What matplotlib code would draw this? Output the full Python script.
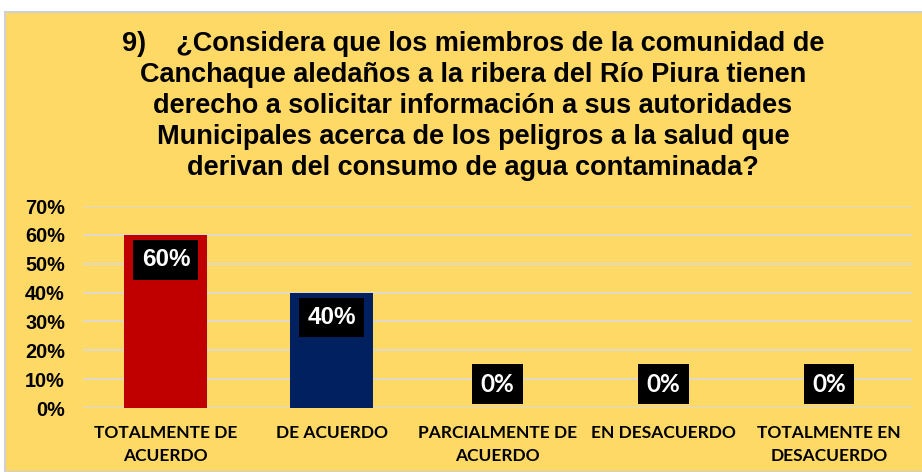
import matplotlib.pyplot as plt
from matplotlib.patches import Rectangle
from matplotlib.ticker import PercentFormatter

categorias = ["TOTALMENTE DE\nACUERDO", "DE ACUERDO", "PARCIALMENTE DE\nACUERDO",
              "EN DESACUERDO", "TOTALMENTE EN\nDESACUERDO"]
valores = [0.60, 0.40, 0.0, 0.0, 0.0]
colores = ["#C00000", "#002060", "#C00000", "#C00000", "#C00000"]
titulo = ("9)    ¿Considera que los miembros de la comunidad de\n"
          "Canchaque aledaños a la ribera del Río Piura tienen\n"
          "derecho a solicitar información a sus autoridades\n"
          "Municipales acerca de los peligros a la salud que\n"
          "derivan del consumo de agua contaminada?")

fondo = "#FFD966"

fig = plt.figure(figsize=(9.22, 4.72), dpi=100, facecolor="white")
# yellow panel with thin grey border
fig.patches.append(Rectangle((5 / 922, 0), 1, 460 / 472, transform=fig.transFigure,
                             facecolor=fondo, edgecolor="#D0D0D0", linewidth=1.5, zorder=-10))

ax = fig.add_axes([83 / 922, 64 / 472, 829 / 922, 202 / 472])
ax.set_facecolor("none")

x = range(len(valores))
ax.bar(x, valores, width=0.5, color=colores, zorder=3)
ax.set_xlim(-0.5, 4.5)
ax.set_ylim(0, 0.7)
ax.set_yticks([i / 10 for i in range(8)])
ax.yaxis.set_major_formatter(PercentFormatter(1.0, decimals=0))
ax.grid(axis="y", color="#D9D9D9", linewidth=1.2, zorder=0)
for s in ax.spines.values():
    s.set_visible(False)
ax.axhline(0, color="#D9D9D9", linewidth=1.5, zorder=2)
ax.tick_params(length=0)
ax.tick_params(axis="y", pad=13, labelsize=14.3)
ax.tick_params(axis="x", pad=12)
for t in ax.get_yticklabels():
    t.set_fontfamily("Liberation Sans")
    t.set_fontweight("bold")

ax.set_xticks(list(x))
ax.set_xticklabels(categorias, fontfamily="Lato", fontweight="bold", fontsize=12.5,
                   linespacing=1.6)

for i, v in enumerate(valores):
    if v > 0:
        off = -18
        fam, fs, pad = "Liberation Sans", 17.5, 0.34
    else:
        off = 17
        fam, fs, pad = "Lato", 17.5, 0.35
    ax.annotate(f"{v:.0%}", (i, v), xytext=(0, off), textcoords="offset points",
                ha="center", va="center", color="white", fontsize=fs,
                fontfamily=fam, fontweight="bold", zorder=5,
                bbox=dict(boxstyle=f"square,pad={pad}", facecolor="black", edgecolor="none"))

fig.text(473 / 922, (472 - 106) / 472, titulo, ha="center", va="center",
         fontfamily="Liberation Sans", fontweight="bold", fontsize=19.5, linespacing=1.25)

fig.savefig("out.png", dpi=100, facecolor=fig.get_facecolor())
